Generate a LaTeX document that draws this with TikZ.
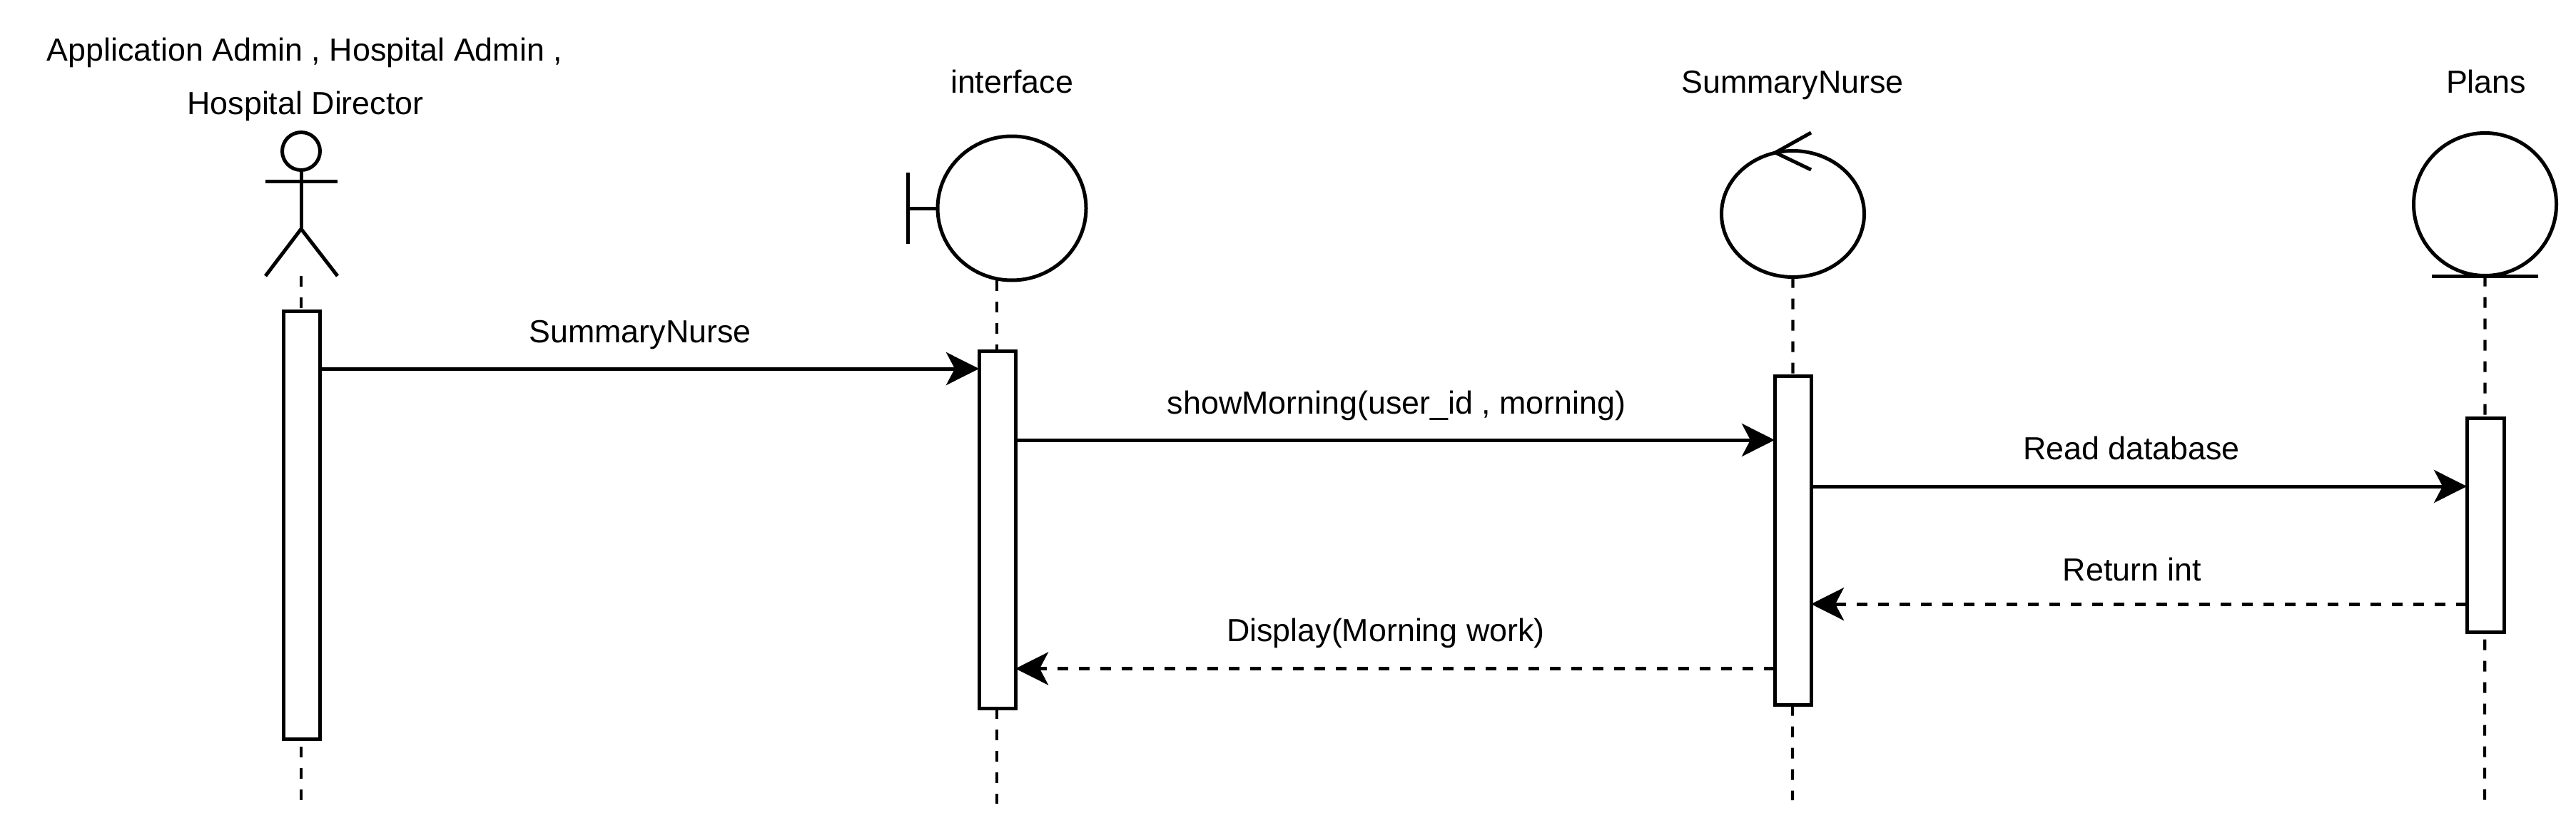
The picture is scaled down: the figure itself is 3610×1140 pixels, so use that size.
\documentclass[tikz,border=0pt]{standalone}
\usepackage{fontspec}
\setmainfont{Liberation Sans}
\usetikzlibrary{arrows.meta,shapes.geometric}
\tikzset{
  base/.style={line width=5pt,draw=black},
  lbl/.style={anchor=base,inner sep=0pt,outer sep=0pt,font=\fontsize{44.8}{50}\selectfont},
  lifeline/.style={line width=4.2pt,draw=black,dash pattern=on 15pt off 15pt},
  lifebox/.style={rectangle,base,fill=white,inner sep=0pt,outer sep=0pt},
  oval/.style={ellipse,base,fill=white,inner sep=0pt,outer sep=0pt},
  msg/.style={base,-{Stealth[length=46pt,width=46pt,inset=12pt]}},
  ret/.style={msg,dash pattern=on 15pt off 15pt}
}
\begin{document}
\begin{tikzpicture}[x=1pt,y=-1pt]
\useasboundingbox (0,0) rectangle (3610,1140);
% labels
\node[lbl] (t1) at (427,85) {Application Admin , Hospital Admin ,};
\node[lbl] (t2) at (428,160) {Hospital Director};
\node[lbl] (t3) at (1418,130) {interface};
\node[lbl] (t4) at (2512,130) {SummaryNurse};
\node[lbl] (t5) at (3484,130) {Plans};
% free ends of the lifelines
\coordinate (e1) at (422,1124);
\coordinate (e2) at (1397,1127);
\coordinate (e3) at (2512,1122);
\coordinate (e4) at (3482,1122);
% actor
\node[oval,minimum width=53pt,minimum height=53pt] (head) at (422,212) {};
\coordinate (armL) at (372,254);
\coordinate (armR) at (473,254);
\coordinate (hip) at (422,321);
\coordinate (footL) at (372,387);
\coordinate (footR) at (473,387);
\coordinate (feet) at (422,387);
\draw[base] (head.south) -- (hip);
\draw[base] (armL) -- (armR);
\draw[base] (footL) -- (hip) -- (footR);
% interface
\node[oval,minimum width=208pt,minimum height=202pt] (intf) at (1418,292) {};
\coordinate (barT) at (1272,242);
\coordinate (barB) at (1272,342);
\draw[base] (barT) -- (barB);
\draw[base] (barT |- intf.west) -- (intf.west);
% control
\node[oval,minimum width=200pt,minimum height=177pt] (ctrl) at (2512.5,300) {};
\coordinate (cA) at (2538,186);
\coordinate (cB) at (2488,214);
\coordinate (cC) at (2538,238);
\draw[base,line join=miter] (cA) -- (cB) -- (cC);
% entity
\node[oval,minimum width=200pt,minimum height=200pt] (ent) at (3482.5,286.5) {};
\coordinate (eL) at (3408,387);
\coordinate (eR) at (3557,387);
\draw[base] (eL) -- (eR);
% lifelines
\draw[lifeline] (feet) -- (e1);
\draw[lifeline] (e2 |- intf.south) -- (e2);
\draw[lifeline] (ctrl.south) -- (e3);
\draw[lifeline] (ent.south) -- (e4);
% activations
\node[lifebox,minimum width=51pt,minimum height=600pt] (a1) at (422.5,736) {};
\node[lifebox,minimum width=51pt,minimum height=501pt] (a2) at (1397.5,742.5) {};
\node[lifebox,minimum width=51pt,minimum height=461pt] (a3) at (2512.5,757.5) {};
\node[lifebox,minimum width=52pt,minimum height=300pt] (a4) at (3483,736.5) {};
% messages
\draw[msg] (a1.east |- 0,517) -- (a2.west |- 0,517);
\draw[msg] (a2.east |- 0,617) -- (a3.west |- 0,617);
\draw[msg] (a3.east |- 0,682) -- (a4.west |- 0,682);
\draw[ret] (a4.west |- 0,847) -- (a3.east |- 0,847);
\draw[ret] (a3.west |- 0,937.5) -- (a2.east |- 0,937.5);
% message labels
\node[lbl] (l1) at (897,480) {SummaryNurse};
\node[lbl] (l2) at (1957,580) {showMorning(user\_id , morning)};
\node[lbl] (l3) at (2987,644) {Read database};
\node[lbl] (l4) at (2988,814) {Return int};
\node[lbl] (l5) at (1942,899) {Display(Morning work)};
\end{tikzpicture}
\end{document}
